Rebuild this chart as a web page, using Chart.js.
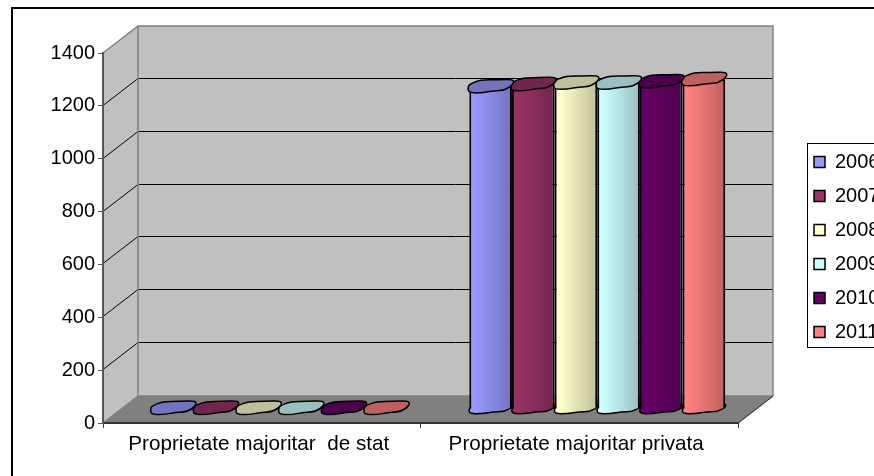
<!DOCTYPE html>
<html>
<head>
<meta charset="utf-8">
<script src="https://cdn.jsdelivr.net/npm/chart.js@4/dist/chart.umd.min.js"></script>
<style>
html, body { margin: 0; height: 100%; background: #fff; overflow: hidden; }
#frame { position: absolute; left: 11px; top: 7px; width: 900px; height: 500px; border: 2px solid #000; }
canvas { display: block; }
</style>
</head>
<body>
<div id="frame"><canvas id="chart" width="861" height="480"></canvas></div>
<script>
const categories = ["Proprietate majoritar  de stat", "Proprietate majoritar privata"];
const years = ["2006", "2007", "2008", "2009", "2010", "2011"];
const values2006 = [5, 1222];
const values2007 = [5, 1230];
const values2008 = [5, 1236];
const values2009 = [5, 1236];
const values2010 = [5, 1241];
const values2011 = [5, 1249];
const yTicksMax = 1400;
const yTicksStep = 200;
const colors = ["#9999ff", "#993366", "#ffffcc", "#ccffff", "#660066", "#ff8080"];

const seriesValues = [values2006, values2007, values2008, values2009, values2010, values2011];

// 3d box offsets, back wall vs front plane and bars in the middle
const wallDx = 35, wallDy = 27;
const barDx = 18, barDy = 14;
const catPercent = 0.806;
const blobPts = [[-1.02, .25], [-.95, -.3], [-.45, -1.05], [.3, -1.05], [1, -1.15], [1.05, -.45], [.65, .7], [.15, .75], [-.4, 1.15], [-.98, 1.15]];
const font = "'Liberation Sans', Arial, sans-serif";

function shade(hex, f) {
	const n = parseInt(hex.slice(1), 16);
	return `rgb(${Math.round((n >> 16) * f)}, ${Math.round(((n >> 8) & 255) * f)}, ${Math.round((n & 255) * f)})`;
}

function barGradient(c, base) {
	if (c.type !== "data") return base;
	const x = c.chart.scales.x;
	const w = x.width / 2 * catPercent / 6;
	const cx = x.getPixelForValue(c.dataIndex) + (c.datasetIndex - 2.5) * w;
	if (!Number.isFinite(cx) || !Number.isFinite(w)) return base;
	return cylinder(c.chart.ctx, cx - w / 2, cx + w / 2, base);
}

function cylinder(ctx, x0, x1, base) {
	const g = ctx.createLinearGradient(x0, 0, x1, 0);
	g.addColorStop(0, base);
	g.addColorStop(0.12, base);
	g.addColorStop(0.4, shade(base, 0.92));
	g.addColorStop(0.65, shade(base, 0.85));
	g.addColorStop(1, shade(base, 0.75));
	return g;
}

function blob(ctx, cx, cy, hw, hh, fill) {
	const pts = blobPts.map(p => [cx + p[0] * hw, cy + p[1] * hh]);
	ctx.beginPath();
	for (let i = 0; i < pts.length; i++) {
		const a = pts[i], b = pts[(i + 1) % pts.length];
		const mx = (a[0] + b[0]) / 2, my = (a[1] + b[1]) / 2;
		if (i == 0) ctx.moveTo(mx, my);
		else ctx.quadraticCurveTo(a[0], a[1], mx, my);
	}
	const mid = [(pts[0][0] + pts[1][0]) / 2, (pts[0][1] + pts[1][1]) / 2];
	ctx.quadraticCurveTo(pts[0][0], pts[0][1], mid[0], mid[1]);
	ctx.closePath();
	ctx.fillStyle = fill;
	ctx.fill();
	ctx.lineWidth = 1.5;
	ctx.strokeStyle = "#000";
	ctx.stroke();
}

const box3d = {
	id: "box3d",
	beforeDraw(chart) {
		const { ctx, chartArea: a, scales } = chart;
		const L = a.left, R = a.right, T = a.top, B = a.bottom;
		ctx.save();
		ctx.fillStyle = "#c0c0c0";
		ctx.fillRect(L + wallDx, T - wallDy, R - L, B - T);
		ctx.beginPath();
		ctx.moveTo(L, T); ctx.lineTo(L + wallDx, T - wallDy); ctx.lineTo(L + wallDx, B - wallDy); ctx.lineTo(L, B);
		ctx.closePath();
		ctx.fill();
		ctx.fillStyle = "#808080";
		ctx.beginPath();
		ctx.moveTo(L, B); ctx.lineTo(L + wallDx, B - wallDy); ctx.lineTo(R + wallDx, B - wallDy); ctx.lineTo(R, B);
		ctx.closePath();
		ctx.fill();
		// grid lines along side wall and back wall
		ctx.lineWidth = 1;
		ctx.strokeStyle = "#000";
		for (const t of scales.y.ticks) {
			if (t.value == 0 || t.value == yTicksMax) continue;
			const y = Math.round(scales.y.getPixelForValue(t.value)) - 0.5;
			ctx.beginPath();
			ctx.moveTo(L, y); ctx.lineTo(L + wallDx, y - wallDy); ctx.lineTo(R + wallDx, y - wallDy);
			ctx.stroke();
		}
		// wall outline
		ctx.strokeStyle = "#808080";
		ctx.lineWidth = 1.5;
		ctx.beginPath();
		ctx.moveTo(L, T); ctx.lineTo(L + wallDx, T - wallDy); ctx.lineTo(R + wallDx, T - wallDy); ctx.lineTo(R + wallDx, B - wallDy); ctx.lineTo(R, B);
		ctx.moveTo(L + wallDx, T - wallDy); ctx.lineTo(L + wallDx, B - wallDy); ctx.lineTo(R + wallDx, B - wallDy);
		ctx.moveTo(L + wallDx, B - wallDy); ctx.lineTo(L, B);
		ctx.stroke();
		ctx.strokeStyle = "#333";
		ctx.lineWidth = 1;
		ctx.beginPath();
		ctx.moveTo(R, B); ctx.lineTo(R + wallDx, B - wallDy);
		ctx.stroke();
		ctx.restore();
	},
	afterLayout(chart) {
		const l = chart.legend;
		l.left = 787;
		l.right = 900;
		l.top = 129;
		l.bottom = 420;
	},
	beforeDatasetDraw(chart, args) {
		const { ctx } = chart;
		const meta = args.meta;
		ctx.save();
		ctx.translate(barDx, -barDy);
		meta.data.forEach(bar => {
			const base = colors[args.index];
			const hw = bar.width / 2;
			blob(ctx, bar.x, bar.base, hw, 4.5, cylinder(ctx, bar.x - hw, bar.x + hw, base));
		});
	},
	afterDatasetDraw(chart, args) {
		const { ctx } = chart;
		const base = colors[args.index];
		args.meta.data.forEach(bar => {
			blob(ctx, bar.x, bar.y, bar.width / 2 + 1, 6, shade(base, 0.75));
		});
		ctx.restore();
	},
	afterDraw(chart) {
		const { ctx } = chart;
		ctx.save();
		ctx.strokeStyle = "#000";
		ctx.lineWidth = 1;
		ctx.strokeRect(794.5, 134.5, 200, 204);
		ctx.restore();
	}
};

new Chart(document.getElementById("chart"), {
	type: "bar",
	data: {
		labels: categories,
		datasets: years.map((year, i) => ({
			label: year,
			data: seriesValues[i],
			backgroundColor: c => barGradient(c, colors[i]),
			borderColor: "#000",
			borderWidth: 2,
			borderSkipped: "bottom",
			categoryPercentage: catPercent,
			barPercentage: 1,
			clip: false
		}))
	},
	options: {
		responsive: false,
		animation: false,
		layout: { padding: { top: 44, right: 86, bottom: 26, left: 0 } },
		plugins: {
			tooltip: { enabled: false },
			legend: {
				position: "right",
				align: "start",
				maxWidth: 50,
				labels: {
					boxWidth: 11,
					boxHeight: 11,
					padding: 14,
					color: "#000",
					font: { family: font, size: 20 },
					generateLabels(chart) {
						const items = Chart.defaults.plugins.legend.labels.generateLabels(chart);
						items.forEach((it, i) => {
							it.fillStyle = colors[i];
							it.lineWidth = 1.5;
						});
						return items;
					}
				}
			}
		},
		scales: {
			x: {
				afterFit(s) { s.height = 40; },
				border: { color: "#333", width: 2 },
				grid: { drawOnChartArea: false, color: "#333", tickLength: 5 },
				ticks: {
					maxRotation: 0,
					color: "#000",
					padding: 4,
					labelOffset: -3,
					font: { family: font, size: 20.7 }
				}
			},
			y: {
				min: 0,
				max: yTicksMax,
				afterFit(s) { s.width = 90; },
				border: { color: "#555", width: 2 },
				grid: { drawOnChartArea: false, color: "#555", tickLength: 5 },
				ticks: {
					stepSize: yTicksStep,
					color: "#000",
					padding: 3,
					callback: v => String(v),
					font: { family: font, size: 20 }
				}
			}
		}
	},
	plugins: [box3d]
});
</script>
</body>
</html>
